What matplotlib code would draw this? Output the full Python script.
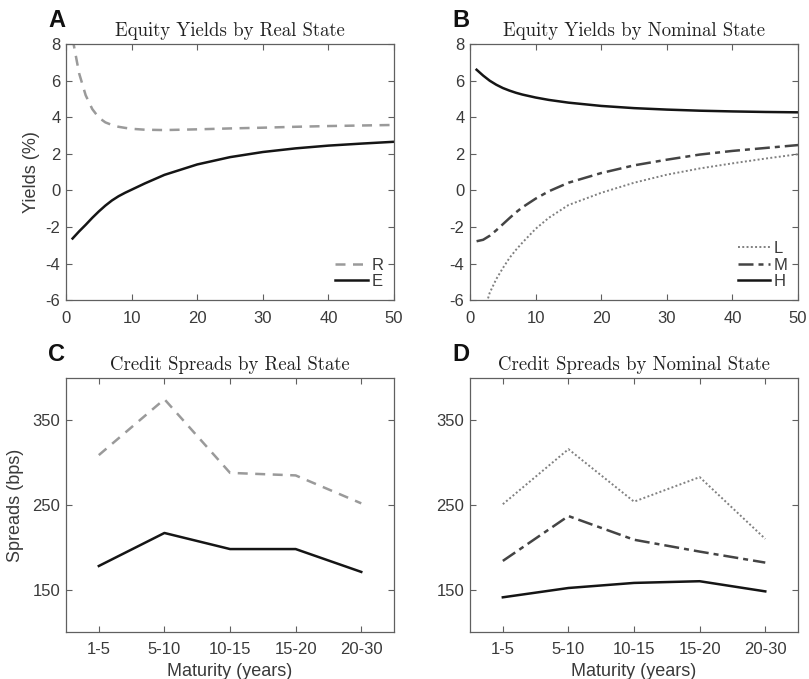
import matplotlib
matplotlib.use("Agg")
import matplotlib.pyplot as plt

# ---- Equity yields (%) by maturity (years) ----
maturity_real = [1, 2, 3, 4, 5, 6, 7, 8, 9, 10, 12, 15, 20, 25, 30, 35, 40, 45, 50]
yield_R = [8.3, 6.4, 5.2, 4.45, 3.98, 3.72, 3.58, 3.48, 3.42, 3.37, 3.32, 3.3, 3.34, 3.39, 3.43, 3.48, 3.52, 3.55, 3.58]
yield_E = [-2.63, -2.24, -1.88, -1.5, -1.15, -0.83, -0.55, -0.32, -0.13, 0.04, 0.38, 0.85, 1.42, 1.82, 2.1, 2.3, 2.45, 2.56, 2.66]

maturity_nom = [1, 2, 3, 4, 5, 6, 7, 8, 10, 12, 15, 20, 25, 30, 35, 40, 45, 50]
yield_L = [-8.4, -6.8, -5.6, -4.85, -4.25, -3.7, -3.25, -2.85, -2.1, -1.5, -0.8, -0.13, 0.42, 0.86, 1.2, 1.48, 1.74, 1.98]
yield_M = [-2.78, -2.7, -2.48, -2.18, -1.85, -1.52, -1.2, -0.92, -0.45, -0.05, 0.42, 0.95, 1.37, 1.68, 1.96, 2.16, 2.32, 2.48]
yield_H = [6.6, 6.28, 6.0, 5.78, 5.6, 5.46, 5.34, 5.24, 5.08, 4.95, 4.8, 4.62, 4.5, 4.42, 4.36, 4.32, 4.29, 4.27]

# ---- Credit spreads (bps) by maturity bucket ----
buckets = ["1-5", "5-10", "10-15", "15-20", "20-30"]
spread_R = [309, 375, 288, 285, 252]
spread_E = [178, 217, 198, 198, 171]
spread_L = [251, 316, 254, 283, 210]
spread_M = [184, 237, 209, 195, 182]
spread_H = [141, 152, 158, 160, 148]

SANS = ["Liberation Sans", "DejaVu Sans"]
SERIF = ["cmr10", "DejaVu Serif"]
TICK_COL = "#3a3a3a"
AX_COL = "#606060"

plt.rcParams["font.family"] = SANS
plt.rcParams["axes.unicode_minus"] = False

fig = plt.figure(figsize=(8.09, 6.79), dpi=100)

W = 0.4055
H_TOP = 0.377
H_BOT = 0.374
ax_a = fig.add_axes([0.0816, 0.558, W, H_TOP])
ax_b = fig.add_axes([0.581, 0.558, W, H_TOP])
ax_c = fig.add_axes([0.0816, 0.0692, W, H_BOT])
ax_d = fig.add_axes([0.581, 0.0692, W, H_BOT])


def style(ax):
    for s in ax.spines.values():
        s.set_color(AX_COL)
        s.set_linewidth(0.9)
    ax.tick_params(direction="in", top=True, right=True, length=4,
                   width=0.8, color=AX_COL, labelsize=12,
                   labelcolor=TICK_COL)
    ax.tick_params(axis="x", pad=7.5)
    ax.tick_params(axis="y", pad=4)


def title(ax, text, letter):
    ax.set_title(text, family=SERIF, fontsize=13.5, color="#222222", pad=6)
    ax.text(-0.002, 1.066, letter, transform=ax.transAxes, fontsize=17,
            fontweight="bold", color="#111111", ha="right", va="baseline",
            family=SANS)


LEG = dict(loc="lower right", frameon=False, fontsize=12, handlelength=1.95,
           handletextpad=0.2, labelspacing=0.1, borderaxespad=0.35,
           borderpad=0.3, labelcolor=TICK_COL)

# Panel A
ax_a.plot(maturity_real, yield_R, color="#9a9a9a", lw=1.8, ls=(0, (4, 3)), label="R")
ax_a.plot(maturity_real, yield_E, color="#151515", lw=1.8, label="E")
ax_a.set_xlim(0, 50)
ax_a.set_ylim(-6, 8)
ax_a.set_xticks(range(0, 51, 10))
ax_a.set_yticks(range(-6, 9, 2))
ax_a.set_ylabel("Yields (%)", fontsize=13, color=TICK_COL, labelpad=4)
style(ax_a)
title(ax_a, "Equity Yields by Real State", "A")
ax_a.legend(**LEG)

# Panel B
ax_b.plot(maturity_nom, yield_L, color="#808080", lw=1.4, ls=(0, (1, 1.2)), label="L")
ax_b.plot(maturity_nom, yield_M, color="#444444", lw=1.8, ls=(0, (6, 2, 2, 2)), label="M")
ax_b.plot(maturity_nom, yield_H, color="#151515", lw=1.8, label="H")
ax_b.set_xlim(0, 50)
ax_b.set_ylim(-6, 8)
ax_b.set_xticks(range(0, 51, 10))
ax_b.set_yticks(range(-6, 9, 2))
style(ax_b)
title(ax_b, "Equity Yields by Nominal State", "B")
ax_b.legend(**LEG)

# Panels C and D
xpos = list(range(1, len(buckets) + 1))
ax_c.plot(xpos, spread_R, color="#9a9a9a", lw=1.8, ls=(0, (4, 3)))
ax_c.plot(xpos, spread_E, color="#151515", lw=1.8)
ax_d.plot(xpos, spread_L, color="#808080", lw=1.4, ls=(0, (1, 1.2)))
ax_d.plot(xpos, spread_M, color="#444444", lw=1.8, ls=(0, (6, 2, 2, 2)))
ax_d.plot(xpos, spread_H, color="#151515", lw=1.8)

for ax, ttl, letter in [(ax_c, "Credit Spreads by Real State", "C"),
                        (ax_d, "Credit Spreads by Nominal State", "D")]:
    ax.set_xlim(0.5, 5.5)
    ax.set_ylim(100, 400)
    ax.set_xticks(xpos)
    ax.set_xticklabels(buckets)
    ax.set_yticks([150, 250, 350])
    ax.set_xlabel("Maturity (years)", fontsize=13, color=TICK_COL, labelpad=4)
    style(ax)
    title(ax, ttl, letter)

ax_c.set_ylabel("Spreads (bps)", fontsize=13, color=TICK_COL, labelpad=6)

fig.savefig("out.png", dpi=100)
